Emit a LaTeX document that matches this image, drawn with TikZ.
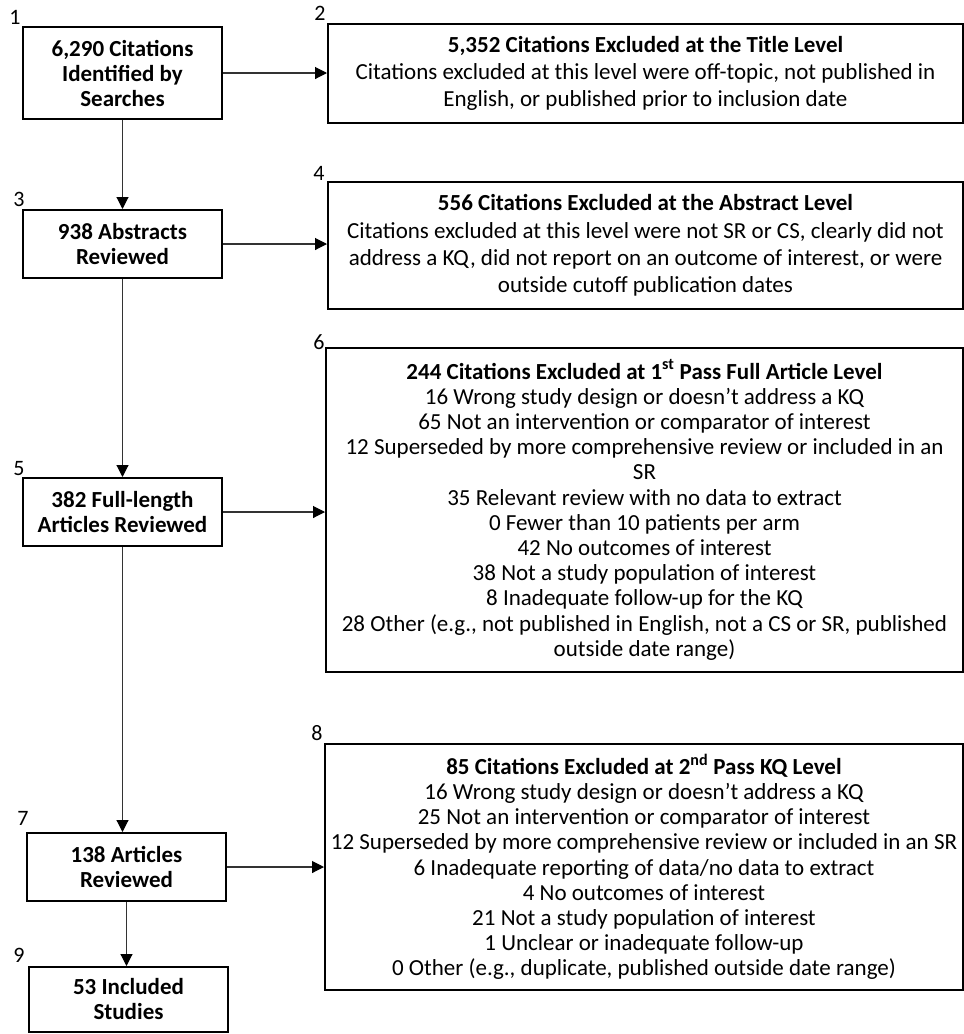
\documentclass[tikz,border=0pt]{standalone}
\usepackage{fontspec}
\setmainfont{Carlito}
\usetikzlibrary{arrows.meta}
\begin{document}
\begin{tikzpicture}[x=1pt,y=-1pt,
  box/.style={draw=black, line width=2pt, align=center, inner sep=0pt, anchor=center},
  lbox/.style={box, minimum width=199pt, font=\fontsize{23}{25}\selectfont\bfseries},
  rbox/.style={box, font=\fontsize{23}{25.2}\selectfont},
  rboxbig/.style={box, font=\fontsize{23}{27.2}\selectfont},
  num/.style={inner sep=0pt, anchor=center, font=\fontsize{22}{22}\selectfont},
  arr/.style={line width=1.1pt, draw=black!80, -{Triangle[length=12pt,width=12pt,color=black]}}
]
\useasboundingbox (0,0) rectangle (964,1034);

% left column
\node[lbox, minimum height=92pt] (b1) at (122.5,73) {6,290 Citations\\Identified by\\Searches};
\node[lbox, minimum height=68pt] (b3) at (122.5,244) {938 Abstracts\\Reviewed};
\node[lbox, minimum height=68pt] (b5) at (122.5,512) {382 Full-length\\Articles Reviewed};
\node[lbox, minimum height=68pt] (b7) at (126.5,867) {138 Articles\\Reviewed};
\node[lbox, minimum height=65pt] (b9) at (128.5,999.5) {53 Included\\Studies};

% right column
\node[rboxbig, minimum width=635pt, minimum height=99pt] (b2) at (645.5,73.5)
  {\textbf{5,352 Citations Excluded at the Title Level}\\
   Citations excluded at this level were off-topic, not published in\\
   English, or published prior to inclusion date};
\node[rboxbig, minimum width=635pt, minimum height=127pt] (b4) at (645.5,245.5)
  {\textbf{556 Citations Excluded at the Abstract Level}\\
   Citations excluded at this level were not SR or CS, clearly did not\\
   address a KQ, did not report on an outcome of interest, or were\\
   outside cutoff publication dates};
\node[rbox, minimum width=637pt, minimum height=324pt] (b6) at (644.5,510)
  {\textbf{244 Citations Excluded at 1\textsuperscript{st} Pass Full Article Level}\\
   16 Wrong study design or doesn’t address a KQ\\
   65 Not an intervention or comparator of interest\\
   12 Superseded by more comprehensive review or included in an\\
   SR\\
   35 Relevant review with no data to extract\\
   0 Fewer than 10 patients per arm\\
   42 No outcomes of interest\\
   38 Not a study population of interest\\
   8 Inadequate follow-up for the KQ\\
   28 Other (e.g., not published in English, not a CS or SR, published\\
   outside date range)};
\node[rbox, minimum width=638pt, minimum height=246pt] (b8) at (644,867)
  {\textbf{85 Citations Excluded at 2\textsuperscript{nd} Pass KQ Level}\\
   16 Wrong study design or doesn’t address a KQ\\
   25 Not an intervention or comparator of interest\\
   12 Superseded by more comprehensive review or included in an SR\\
   6 Inadequate reporting of data/no data to extract\\
   4 No outcomes of interest\\
   21 Not a study population of interest\\
   1 Unclear or inadequate follow-up\\
   0 Other (e.g., duplicate, published outside date range)};

% number labels
\node[num] (n1) at (15,17) {1};
\node[num] (n2) at (320,13) {2};
\node[num] (n3) at (19,199) {3};
\node[num] (n4) at (319,173) {4};
\node[num] (n5) at (19,469) {5};
\node[num] (n6) at (319,342) {6};
\node[num] (n7) at (23,818) {7};
\node[num] (n8) at (317,733) {8};
\node[num] (n9) at (19,955) {9};

% connectors
\draw[arr] (b1.east) -- (b1.east -| b2.west);
\draw[arr] (b3.east) -- (b3.east -| b4.west);
\draw[arr] (b5.east) -- (b5.east -| b6.west);
\draw[arr] (b7.east) -- (b7.east -| b8.west);
\draw[arr] (b1.south) -- (b3.north);
\draw[arr] (b3.south) -- (b5.north);
\draw[arr] (b5.south) -- (b5.south |- b7.north);
\draw[arr] (b7.south) -- (b7.south |- b9.north);
\end{tikzpicture}
\end{document}
